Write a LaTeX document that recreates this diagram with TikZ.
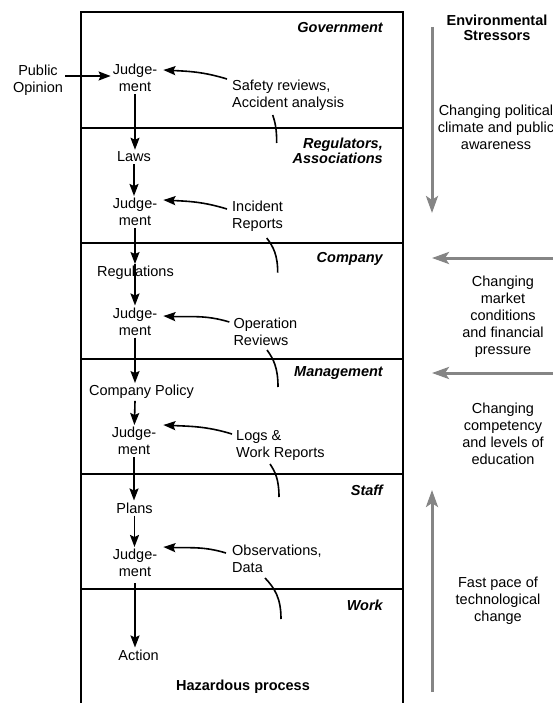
\documentclass[tikz,border=0pt]{standalone}
\usepackage{fontspec}
\setmainfont{Liberation Sans}
\usetikzlibrary{arrows.meta}
\definecolor{stressgray}{HTML}{858585}
\begin{document}
\begin{tikzpicture}[x=1pt,y=-1pt,
  every node/.style={font=\fontsize{14.5}{17}\selectfont, inner sep=2pt},
  txt/.style={align=center},
  ltxt/.style={align=left},
  layer/.style={anchor=east, align=right, font=\fontsize{14.5}{15}\selectfont\bfseries\itshape},
  arr/.style={line width=1.6pt, -{Stealth[length=12pt,width=9pt,inset=2pt]}},
  fb/.style={line width=1.6pt},
  garr/.style={stressgray, line width=3pt, -{Stealth[length=17pt,width=12pt,inset=4pt]}},
  frame/.style={line width=2.6pt},
  divider/.style={line width=1.8pt}]
\useasboundingbox (0,0) rectangle (553,703);

% frame and layer dividers
\draw[frame] (81,715) -- (81,12) -- (403,12) -- (403,715);
\foreach \yy in {128,243,359,474,589}
  \draw[divider] (81,\yy) -- (403,\yy);

% layer names
\node[layer] (lgov) at (385,28) {Government};
\node[layer] (lreg) at (385,151) {Regulators,\\Associations};
\node[layer] (lcom) at (385,259) {Company};
\node[layer] (lman) at (385,373) {Management};
\node[layer] (lsta) at (385,490) {Staff};
\node[layer] (lwor) at (385,605) {Work};

% control chain
\node[txt] (po) at (38,80) {Public\\Opinion};
\node[txt] (j1) at (135,78) {Judge-\\ment};
\node[txt] (laws) at (134,157) {Laws};
\node[txt] (j2) at (135,212) {Judge-\\ment};
\node[txt] (reg) at (135.5,273) {Regulations};
\node[txt] (j3) at (135,321.5) {Judge-\\ment};
\node[txt] (cp) at (141.5,392) {Company Policy};
\node[txt] (j4) at (134,441) {Judge-\\ment};
\node[txt] (plans) at (134.5,508) {Plans};
\node[txt] (j5) at (135,563) {Judge-\\ment};
\node[txt] (act) at (138.5,655) {Action};
\node[font=\fontsize{14.5}{17}\selectfont\bfseries] (haz) at (243,687) {Hazardous process};

\draw[arr] ([yshift=4pt]po.east) -- ([yshift=2pt]j1.west);
\draw[arr] (j1) -- (j1 |- laws.north);
\draw[arr] (laws) -- (laws |- j2.north);
\draw[arr] (j2) -- (j2 |- reg.north);
\draw[arr] (j2 |- reg.north) -- (j3);
\draw[arr] (j3) -- (j3 |- cp.north);
\draw[arr] (j3 |- cp.south) -- (j4);
\draw[arr] (j4) -- (j4 |- plans.north);
\draw[arr] (plans) -- (plans |- j5.north);
\draw[arr] ([yshift=-4pt]j5.south) -- (j5 |- act.north);

% feedback texts
\node[ltxt, anchor=west] (saf) at (230,95) {Safety reviews,\\Accident analysis};
\node[ltxt, anchor=west] (inc) at (230,216.5) {Incident\\Reports};
\node[ltxt, anchor=west] (ope) at (231.3,332) {Operation\\Reviews};
\node[ltxt, anchor=west] (logs) at (234,445.5) {Logs \&\\Work Reports};
\node[ltxt, anchor=west] (obs) at (230,558.5) {Observations,\\Data};

\draw[arr] ([xshift=-3pt,yshift=16pt]saf.west) to[out=163,in=-3] ([xshift=4pt,yshift=8pt]j1.east);
\draw[arr] ([xshift=-3pt,yshift=7.5pt]inc.west) to[out=163,in=-3] ([xshift=4pt,yshift=12pt]j2.east);
\draw[arr] ([xshift=-2pt,yshift=10pt]ope.west) to[out=163,in=-3] ([xshift=4pt,yshift=5.5pt]j3.east);
\draw[arr] ([xshift=-2pt,yshift=11.5pt]logs.west) to[out=163,in=-3] ([xshift=5pt,yshift=16pt]j4.east);
\draw[arr] ([xshift=-4pt,yshift=5.5pt]obs.west) to[out=163,in=-3] ([xshift=4pt,yshift=16pt]j5.east);

% feedback paths crossing the layer boundaries
\draw[fb] (272.7,115) .. controls (275.1,122) and (276.7,129) .. (276.7,143);
\draw[fb] (266.7,238) .. controls (273.3,246.6) and (277.7,255) .. (277.7,272.7);
\draw[fb] (267,350) .. controls (273.6,359) and (278,368) .. (278,387);
\draw[fb] (270,464) .. controls (275.4,472) and (279,480) .. (279,497);
\draw[fb] (265,578) .. controls (274.6,588) and (281,598) .. (281,619);

% environmental stressors
\node[txt, font=\fontsize{14.5}{15}\selectfont\bfseries] (env) at (497,27.5) {Environmental\\Stressors};
\node[txt] (pol) at (496,127.5) {Changing political\\climate and public\\awareness};
\node[txt] (mkt) at (503,317) {Changing\\market\\conditions\\and financial\\pressure};
\node[txt] (cmp) at (503,433.5) {Changing\\competency\\and levels of\\education};
\node[txt] (fst) at (498,601) {Fast pace of\\technological\\change};

\coordinate (g1s) at (432,27);
\coordinate (g1e) at (432,213);
\coordinate (g2s) at (560,258);
\coordinate (g2e) at (432,258);
\coordinate (g3s) at (560,373);
\coordinate (g3e) at (432,373);
\coordinate (g4s) at (432,692);
\coordinate (g4e) at (432,490);
\draw[garr] (g1s) -- (g1e);
\draw[garr] (g2s) -- (g2e);
\draw[garr] (g3s) -- (g3e);
\draw[garr] (g4s) -- (g4e);
\end{tikzpicture}
\end{document}
